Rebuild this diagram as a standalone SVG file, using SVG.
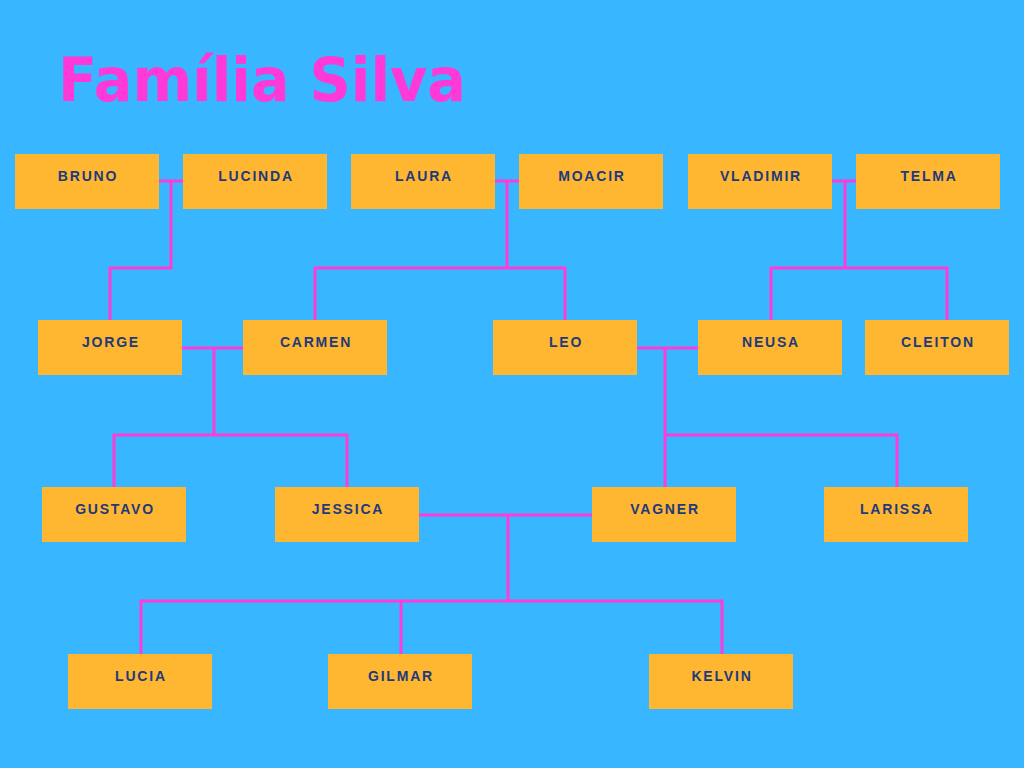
<svg xmlns="http://www.w3.org/2000/svg" width="1024" height="768" viewBox="0 0 1024 768">
<style>
.box{fill:#FFB631}
.lbl{font-family:"Liberation Sans",Arial,sans-serif;font-weight:bold;font-size:14px;letter-spacing:1.8px;fill:#1E3A7B;text-anchor:middle}
.ln{fill:none;stroke:#FF3BD8;stroke-width:3}
.title{font-family:"DejaVu Sans",Verdana,sans-serif;font-weight:bold;font-size:61px;fill:#FF38D8}
</style>
<rect width="1024" height="768" fill="#38B6FF"/>
<text class="title" x="58" y="101" textLength="408" lengthAdjust="spacingAndGlyphs">Família Silva</text>
<g id="connectors">
<polyline class="ln" points="159,181 183,181"/>
<polyline class="ln" points="171,181 171,268 110,268 110,320"/>
<polyline class="ln" points="495,181 519,181"/>
<polyline class="ln" points="507,181 507,268"/>
<polyline class="ln" points="315,320 315,268 565,268 565,320"/>
<polyline class="ln" points="831,181 856,181"/>
<polyline class="ln" points="845,181 845,268"/>
<polyline class="ln" points="771,320 771,268 947,268 947,320"/>
<polyline class="ln" points="182,348 243,348"/>
<polyline class="ln" points="214,348 214,435"/>
<polyline class="ln" points="114,487 114,435 347,435 347,487"/>
<polyline class="ln" points="637,348 698,348"/>
<polyline class="ln" points="665,348 665,487"/>
<polyline class="ln" points="665,435 897,435 897,487"/>
<polyline class="ln" points="419,515 592,515"/>
<polyline class="ln" points="508,515 508,601"/>
<polyline class="ln" points="141,654 141,601 722,601 722,654"/>
<polyline class="ln" points="401,601 401,654"/>
</g>
<g id="bruno"><rect class="box" x="15" y="154" width="144" height="55"/><text class="lbl" x="88" y="181">BRUNO</text></g>
<g id="lucinda"><rect class="box" x="183" y="154" width="144" height="55"/><text class="lbl" x="256" y="181">LUCINDA</text></g>
<g id="laura"><rect class="box" x="351" y="154" width="144" height="55"/><text class="lbl" x="424" y="181">LAURA</text></g>
<g id="moacir"><rect class="box" x="519" y="154" width="144" height="55"/><text class="lbl" x="592" y="181">MOACIR</text></g>
<g id="vladimir"><rect class="box" x="688" y="154" width="144" height="55"/><text class="lbl" x="761" y="181">VLADIMIR</text></g>
<g id="telma"><rect class="box" x="856" y="154" width="144" height="55"/><text class="lbl" x="929" y="181">TELMA</text></g>
<g id="jorge"><rect class="box" x="38" y="320" width="144" height="55"/><text class="lbl" x="111" y="347">JORGE</text></g>
<g id="carmen"><rect class="box" x="243" y="320" width="144" height="55"/><text class="lbl" x="316" y="347">CARMEN</text></g>
<g id="leo"><rect class="box" x="493" y="320" width="144" height="55"/><text class="lbl" x="566" y="347">LEO</text></g>
<g id="neusa"><rect class="box" x="698" y="320" width="144" height="55"/><text class="lbl" x="771" y="347">NEUSA</text></g>
<g id="cleiton"><rect class="box" x="865" y="320" width="144" height="55"/><text class="lbl" x="938" y="347">CLEITON</text></g>
<g id="gustavo"><rect class="box" x="42" y="487" width="144" height="55"/><text class="lbl" x="115" y="514">GUSTAVO</text></g>
<g id="jessica"><rect class="box" x="275" y="487" width="144" height="55"/><text class="lbl" x="348" y="514">JESSICA</text></g>
<g id="vagner"><rect class="box" x="592" y="487" width="144" height="55"/><text class="lbl" x="665" y="514">VAGNER</text></g>
<g id="larissa"><rect class="box" x="824" y="487" width="144" height="55"/><text class="lbl" x="897" y="514">LARISSA</text></g>
<g id="lucia"><rect class="box" x="68" y="654" width="144" height="55"/><text class="lbl" x="141" y="681">LUCIA</text></g>
<g id="gilmar"><rect class="box" x="328" y="654" width="144" height="55"/><text class="lbl" x="401" y="681">GILMAR</text></g>
<g id="kelvin"><rect class="box" x="649" y="654" width="144" height="55"/><text class="lbl" x="722" y="681">KELVIN</text></g>
</svg>
